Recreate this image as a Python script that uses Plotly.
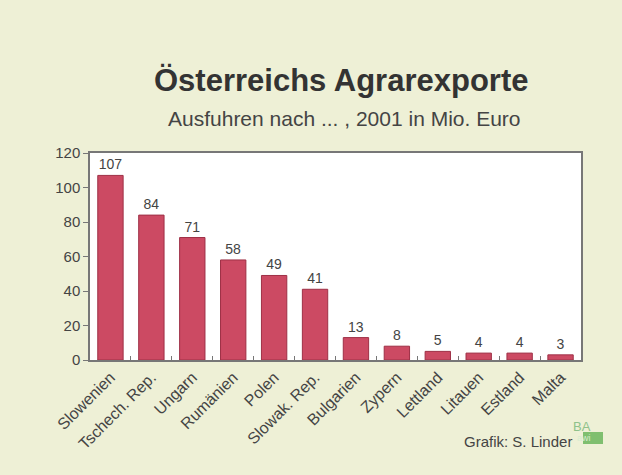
import plotly.graph_objects as go

countries = ["Slowenien", "Tschech. Rep.", "Ungarn", "Rumänien", "Polen", "Slowak. Rep.",
             "Bulgarien", "Zypern", "Lettland", "Litauen", "Estland", "Malta"]
values = [107, 84, 71, 58, 49, 41, 13, 8, 5, 4, 4, 3]
y_ticks = [0, 20, 40, 60, 80, 100, 120]

W, H = 622, 475
l, r, t, b = 90, 41, 153, 115
pw, ph = W - l - r, H - t - b


def px(x):
    return (x - l) / pw


def py(y):
    return (H - b - y) / ph


fig = go.Figure()
fig.add_trace(go.Bar(
    x=countries, y=values,
    marker=dict(color="#cc4a63", line=dict(color="#9e3046", width=1)),
    text=[str(v) for v in values], textposition="outside",
    textfont=dict(family="Liberation Sans, Arial", size=14, color="#444444"),
    cliponaxis=False,
))

fig.update_layout(
    width=W, height=H,
    margin=dict(l=l, r=r, t=t, b=b),
    paper_bgcolor="#eef0d6",
    plot_bgcolor="#ffffff",
    bargap=0.38,
    showlegend=False,
    font=dict(family="Liberation Sans, Arial", color="#444444"),
    xaxis=dict(
        tickangle=-45, tickfont=dict(size=16, color="#444444"),
        showline=True, linecolor="#777777", linewidth=1.5, mirror=True,
        ticks="inside", tickson="boundaries", ticklen=4, tickcolor="#777777",
        showgrid=False,
    ),
    yaxis=dict(
        range=[0, 120], tickvals=y_ticks, tickfont=dict(size=15, color="#444444"),
        showline=True, linecolor="#777777", linewidth=1.5, mirror=True,
        ticks="outside", ticklen=5, tickcolor="#777777",
        showgrid=False, zeroline=False,
    ),
    annotations=[
        dict(text="<b>Österreichs Agrarexporte</b>", x=px(341), y=py(80),
             font=dict(size=31, color="#333333")),
        dict(text="Ausfuhren nach ... , 2001 in Mio. Euro", x=px(344), y=py(119),
             font=dict(size=21, color="#444444")),
        dict(text="Grafik: S. Linder", x=px(574), y=py(441), xanchor="right",
             font=dict(size=15, color="#444444")),
        dict(text="BA", x=px(593), y=py(426),
             font=dict(size=13, color="#8fc28a")),
        dict(text="awi", x=px(593), y=py(438),
             font=dict(size=9, color="#d8ecd0")),
    ],
)
for a in fig.layout.annotations:
    a.xref = "paper"
    a.yref = "paper"
    a.showarrow = False
    a.yanchor = "middle"

fig.add_shape(type="rect", xref="paper", yref="paper",
              x0=px(583), x1=px(603), y0=py(444), y1=py(432),
              fillcolor="#7fbf6f", line=dict(width=0), layer="below")
fig.write_html("out.html", config={"displayModeBar": False},
               post_script="document.body.style.margin='0';")
